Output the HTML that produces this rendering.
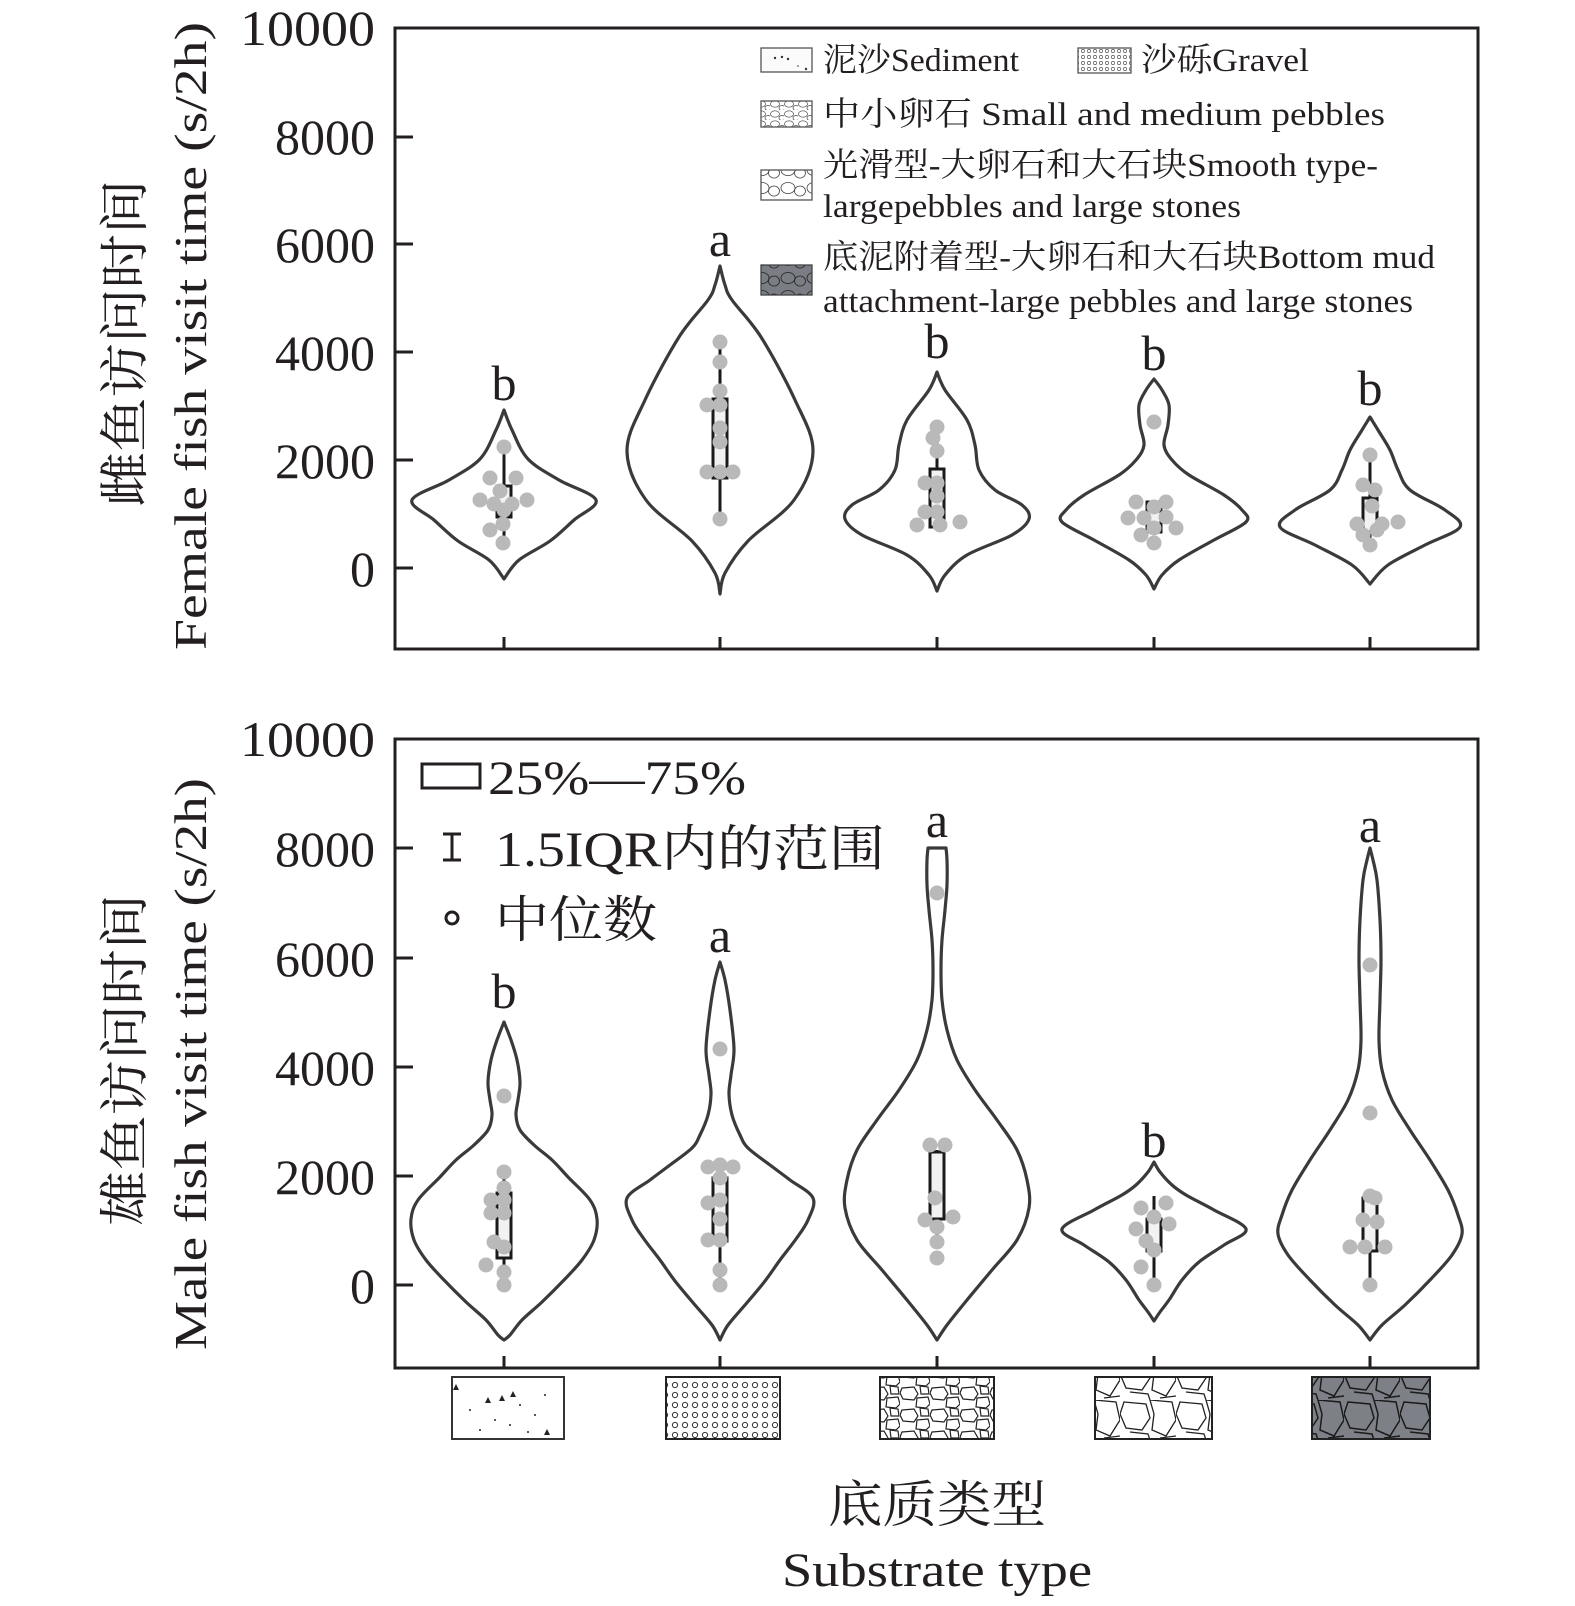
<!DOCTYPE html>
<html><head><meta charset="utf-8"><style>
html,body{margin:0;padding:0;background:#fff;}
svg{display:block;}
text{font-family:"Liberation Serif","Noto Serif CJK SC",serif;fill:#231f20;}
</style></head><body>
<svg id="s" width="1575" height="1606" viewBox="0 0 1575 1606" xmlns="http://www.w3.org/2000/svg">
<defs>
<pattern id="pGravel" width="10" height="10" patternUnits="userSpaceOnUse"><circle cx="5" cy="5" r="2.6" fill="none" stroke="#333" stroke-width="1"/></pattern>
<pattern id="pGravelS" width="6" height="6" patternUnits="userSpaceOnUse"><circle cx="3" cy="3" r="1.6" fill="none" stroke="#555" stroke-width="0.7"/></pattern>
<pattern id="pSmall" width="30" height="22" patternUnits="userSpaceOnUse"><path d="M2 2 L14 1 L18 8 L14 14 L3 13 L0 7Z M17 12 L28 11 L30 18 L26 22 L16 21Z M20 0 L28 1 L29 8 L21 8Z" fill="none" stroke="#222" stroke-width="1.2"/></pattern>
<pattern id="pSmallS" width="14" height="10" patternUnits="userSpaceOnUse"><ellipse cx="5" cy="4" rx="4.5" ry="3.2" fill="none" stroke="#444" stroke-width="0.7"/><ellipse cx="12" cy="8" rx="3" ry="2.5" fill="none" stroke="#444" stroke-width="0.7"/></pattern>
<pattern id="pLarge" width="56" height="40" patternUnits="userSpaceOnUse"><path d="M4 2 L26 4 L30 18 L22 30 L6 28 L0 14Z M30 0 L52 2 L56 20 L46 36 L32 30 L34 14Z M10 32 L28 34 L30 40 M40 38 L56 36" fill="none" stroke="#222" stroke-width="1.3"/></pattern>
<pattern id="pLargeS" width="26" height="18" patternUnits="userSpaceOnUse"><ellipse cx="8" cy="8" rx="7" ry="5.5" fill="none" stroke="#444" stroke-width="0.8"/><ellipse cx="20" cy="11" rx="5.5" ry="5" fill="none" stroke="#444" stroke-width="0.8"/></pattern>
<pattern id="pMud" width="56" height="40" patternUnits="userSpaceOnUse"><rect width="56" height="40" fill="#7d8087"/><path d="M4 2 L26 4 L30 18 L22 30 L6 28 L0 14Z M30 0 L52 2 L56 20 L46 36 L32 30 L34 14Z M10 32 L28 34 L30 40 M40 38 L56 36" fill="none" stroke="#1a1a1a" stroke-width="1.5"/></pattern>
<pattern id="pMudS" width="26" height="18" patternUnits="userSpaceOnUse"><rect width="26" height="18" fill="#7a7d84"/><ellipse cx="8" cy="8" rx="7" ry="5.5" fill="none" stroke="#222" stroke-width="0.8"/><ellipse cx="20" cy="11" rx="5.5" ry="5" fill="none" stroke="#222" stroke-width="0.8"/></pattern>
</defs>

<!-- frames -->
<rect x="395" y="28" width="1083" height="621" fill="none" stroke="#231f20" stroke-width="3"/>
<rect x="395" y="739" width="1083" height="629" fill="none" stroke="#231f20" stroke-width="3"/>
<g id="ticks" stroke="#231f20" stroke-width="3"></g>

<!-- y tick labels upper -->
<g font-size="50" text-anchor="end">
<text x="375" y="45" textLength="135" lengthAdjust="spacingAndGlyphs">10000</text>
<text x="375" y="154">8000</text>
<text x="375" y="262">6000</text>
<text x="375" y="370">4000</text>
<text x="375" y="478">2000</text>
<text x="375" y="586">0</text>
<text x="375" y="756" textLength="135" lengthAdjust="spacingAndGlyphs">10000</text>
<text x="375" y="866">8000</text>
<text x="375" y="976">6000</text>
<text x="375" y="1085">4000</text>
<text x="375" y="1194">2000</text>
<text x="375" y="1303">0</text>
</g>

<!-- axis titles -->
<text transform="translate(206,336) rotate(-90)" font-size="46" text-anchor="middle" textLength="628" lengthAdjust="spacingAndGlyphs">Female fish visit time (s/2h)</text>
<text transform="translate(142,343) rotate(-90)" font-size="50" text-anchor="middle" textLength="327" lengthAdjust="spacingAndGlyphs">雌鱼访问时间</text>
<text transform="translate(206,1064) rotate(-90)" font-size="46" text-anchor="middle" textLength="572" lengthAdjust="spacingAndGlyphs">Male fish visit time (s/2h)</text>
<text transform="translate(142,1060) rotate(-90)" font-size="50" text-anchor="middle" textLength="332" lengthAdjust="spacingAndGlyphs">雄鱼访问时间</text>

<text x="937" y="1522" font-size="50" text-anchor="middle" textLength="218" lengthAdjust="spacingAndGlyphs">底质类型</text>
<text x="937" y="1586" font-size="48" text-anchor="middle" textLength="310" lengthAdjust="spacingAndGlyphs">Substrate type</text>

<!-- upper legend -->
<g font-size="33">
<rect x="761" y="48" width="51" height="24" fill="#fbfbfb" stroke="#555" stroke-width="1.3"/>
<circle cx="775" cy="58" r="1.2" fill="#333"/><circle cx="782" cy="57" r="1.2" fill="#333"/><circle cx="788" cy="59" r="1.2" fill="#333"/><circle cx="806" cy="69" r="1.2" fill="#333"/><circle cx="798" cy="66" r="0.8" fill="#333"/>
<text x="823" y="71" textLength="196" lengthAdjust="spacingAndGlyphs">泥沙Sediment</text>
<rect x="1078" y="48" width="53" height="25" fill="url(#pGravelS)" stroke="#555" stroke-width="1.3"/>
<text x="1141" y="71" textLength="168" lengthAdjust="spacingAndGlyphs">沙砾Gravel</text>
<rect x="761" y="101" width="51" height="26" fill="url(#pSmallS)" stroke="#555" stroke-width="1.3"/>
<text x="823" y="125" textLength="562" lengthAdjust="spacingAndGlyphs">中小卵石 Small and medium pebbles</text>
<rect x="761" y="170" width="51" height="30" fill="url(#pLargeS)" stroke="#555" stroke-width="1.3"/>
<text x="823" y="176" textLength="555" lengthAdjust="spacingAndGlyphs">光滑型-大卵石和大石块Smooth type-</text>
<text x="823" y="217" textLength="418" lengthAdjust="spacingAndGlyphs">largepebbles and large stones</text>
<rect x="761" y="265" width="51" height="30" fill="url(#pMudS)" stroke="#444" stroke-width="1.3"/>
<text x="823" y="268" textLength="612" lengthAdjust="spacingAndGlyphs">底泥附着型-大卵石和大石块Bottom mud</text>
<text x="823" y="312" textLength="590" lengthAdjust="spacingAndGlyphs">attachment-large pebbles and large stones</text>
</g>

<!-- lower legend -->
<rect x="422" y="764" width="58" height="24" fill="none" stroke="#231f20" stroke-width="3"/>
<text x="488" y="794" font-size="48" textLength="258" lengthAdjust="spacingAndGlyphs">25%—75%</text>
<g stroke="#231f20" stroke-width="3"><line x1="452" y1="834" x2="452" y2="860"/><line x1="443" y1="834" x2="461" y2="834"/><line x1="443" y1="860" x2="461" y2="860"/></g>
<text x="495" y="866" font-size="50" textLength="390" lengthAdjust="spacingAndGlyphs">1.5IQR内的范围</text>
<circle cx="452" cy="918" r="6" fill="none" stroke="#231f20" stroke-width="3"/>
<text x="495" y="937" font-size="50" textLength="162" lengthAdjust="spacingAndGlyphs">中位数</text>

<!-- group letters -->
<g font-size="50" text-anchor="middle">
<text x="504" y="400">b</text>
<text x="720" y="256">a</text>
<text x="937" y="358">b</text>
<text x="1154" y="370">b</text>
<text x="1370" y="405">b</text>
<text x="504" y="1008">b</text>
<text x="720" y="952">a</text>
<text x="937" y="837">a</text>
<text x="1154" y="1157">b</text>
<text x="1370" y="842">a</text>
</g>

<g id="plot"></g>

<!-- substrate swatches -->
<rect x="452" y="1377" width="112" height="62" fill="#fff" stroke="#333" stroke-width="2"/>
<g fill="#222"><path d="M456 1384 l3 6 h-6z"/><path d="M488 1397 l3 6 h-6z"/><path d="M502 1395 l3 6 h-6z"/><path d="M513 1391 l3 6 h-6z"/><path d="M547 1429 l3 6 h-6z"/>
<circle cx="470" cy="1410" r="1"/><circle cx="495" cy="1420" r="1"/><circle cx="520" cy="1405" r="1"/><circle cx="535" cy="1415" r="1"/><circle cx="480" cy="1430" r="1"/><circle cx="510" cy="1425" r="1"/><circle cx="545" cy="1395" r="1"/><circle cx="528" cy="1432" r="1"/></g>
<rect x="666" y="1377" width="114" height="62" fill="url(#pGravel)" stroke="#222" stroke-width="2"/>
<rect x="880" y="1377" width="114" height="62" fill="url(#pSmall)" stroke="#222" stroke-width="2"/>
<rect x="1095" y="1377" width="117" height="62" fill="url(#pLarge)" stroke="#222" stroke-width="2"/>
<rect x="1312" y="1377" width="118" height="62" fill="url(#pMud)" stroke="#222" stroke-width="2"/>
</svg>
<script>
(function(){
var NS="http://www.w3.org/2000/svg",g=document.getElementById("plot"),tk=document.getElementById("ticks");
function el(n,a,p){var e=document.createElementNS(NS,n);for(var k in a)e.setAttribute(k,a[k]);(p||g).appendChild(e);return e;}
var X=[504,720,937,1154,1370];
// ticks
[137,244,352,460,568].forEach(function(y){el("line",{x1:395,y1:y,x2:413,y2:y},tk);});
[848,958,1067,1176,1285].forEach(function(y){el("line",{x1:395,y1:y,x2:413,y2:y},tk);});
X.forEach(function(x){el("line",{x1:x,y1:637,x2:x,y2:649},tk);el("line",{x1:x,y1:1356,x2:x,y2:1368},tk);});
function cr(pts){var d="M"+pts[0][0]+" "+pts[0][1];for(var i=0;i<pts.length-1;i++){var p0=pts[i-1]||pts[i],p1=pts[i],p2=pts[i+1],p3=pts[i+2]||p2;
d+=" C"+(p1[0]+(p2[0]-p0[0])/6).toFixed(1)+" "+(p1[1]+(p2[1]-p0[1])/6).toFixed(1)+" "+(p2[0]-(p3[0]-p1[0])/6).toFixed(1)+" "+(p2[1]-(p3[1]-p1[1])/6).toFixed(1)+" "+p2[0]+" "+p2[1];}return d;}
function violin(cx,prof){var R=prof.map(function(p){return [cx+p[1],p[0]];});var L=prof.slice().reverse().map(function(p){return [cx-p[1],p[0]];});
var d=cr(R)+" L"+L[0][0]+" "+L[0][1]+" "+cr(L).slice(1).replace(/^[^C]*/,"")+"Z";
el("path",{d:d,fill:"none",stroke:"#3a3a3a","stroke-width":3.2,"stroke-linejoin":"round"});}
var V=[
[[410,0],[430,8],[459,24],[480,55],[500,92],[520,70],[541,46],[560,15],[579,0]],
[[266,0],[285,5],[300,12],[337,41],[400,75],[451,93],[500,74],[541,28],[573,5],[594,0]],
[[372,0],[390,8],[420,30],[445,38],[470,42],[490,58],[505,85],[519,92],[535,75],[555,30],[575,8],[591,0]],
[[379,0],[390,8],[405,15],[425,14],[445,10],[460,18],[475,35],[495,70],[510,88],[522,92],[540,60],[560,25],[575,8],[589,0]],
[[417,0],[430,8],[450,20],[470,28],[490,40],[510,75],[527,90],[545,55],[565,18],[584,0]],
[[1022,0],[1040,7],[1060,13],[1082,16],[1100,14],[1115,12],[1130,16],[1145,30],[1160,48],[1177,64],[1200,86],[1219,93],[1240,90],[1260,78],[1280,60],[1302,38],[1320,18],[1335,6],[1340,0]],
[[962,0],[980,5],[1010,10],[1049,14],[1075,11],[1094,9],[1115,12],[1135,20],[1148,28],[1165,50],[1180,70],[1198,93],[1220,88],[1239,76],[1260,60],[1281,45],[1305,25],[1325,8],[1340,0]],
[[848,9],[860,10],[885,10],[910,8],[940,5],[970,4],[1000,5],[1030,10],[1060,20],[1090,38],[1120,60],[1150,80],[1180,90],[1208,92],[1240,80],[1270,55],[1300,30],[1325,10],[1340,0]],
[[1162,0],[1172,6],[1185,18],[1195,32],[1210,60],[1229,92],[1245,70],[1262,45],[1280,28],[1300,15],[1312,6],[1321,0]],
[[848,0],[860,3],[880,7],[920,10],[960,11],[1000,10],[1040,9],[1070,12],[1100,22],[1130,40],[1160,60],[1190,78],[1215,88],[1234,92],[1255,82],[1280,60],[1305,35],[1325,12],[1340,0]]];
V.forEach(function(p,i){violin(X[i%5],p);});
// whiskers & boxes [wTop,wBot,bTop,bBot]
var B=[[447,538,486,517],[341,519,399,478],[425,529,469,527],[500,532,502,532],[450,538,498,532],
[1167,1285,1193,1258],[1167,1285,1178,1241],[1150,1245,1152,1219],[1196,1285,1219,1251],[1190,1285,1198,1251]];
var D=[
[[504,447],[490,478],[516,478],[480,500],[527,500],[500,491],[494,504],[512,504],[504,510],[490,530],[503,524],[503,543]],
[[720,342],[720,362],[720,391],[707,405],[720,405],[720,428],[720,442],[707,472],[720,472],[733,472],[720,519]],
[[937,427],[933,438],[937,451],[925,483],[937,483],[925,512],[937,512],[917,525],[940,525],[960,522],[937,496]],
[[1154,422],[1136,502],[1166,502],[1154,507],[1128,518],[1144,518],[1166,517],[1154,528],[1176,528],[1141,535],[1154,543]],
[[1370,455],[1363,485],[1375,490],[1372,506],[1357,524],[1382,524],[1398,522],[1363,535],[1377,530],[1370,545]],
[[504,1096],[504,1172],[504,1188],[491,1200],[504,1200],[491,1213],[504,1213],[494,1242],[504,1247],[486,1265],[504,1272],[504,1285]],
[[720,1049],[708,1167],[720,1165],[733,1167],[720,1178],[708,1203],[720,1200],[720,1219],[708,1240],[720,1240],[720,1270],[720,1285]],
[[937,893],[930,1145],[945,1145],[935,1198],[925,1220],[953,1217],[937,1227],[937,1242],[937,1258]],
[[1141,1208],[1166,1203],[1136,1229],[1169,1224],[1154,1217],[1146,1241],[1154,1250],[1141,1267],[1154,1285]],
[[1370,965],[1370,1113],[1370,1196],[1375,1198],[1363,1220],[1377,1222],[1350,1247],[1365,1247],[1385,1247],[1370,1285]]];
B.forEach(function(b,i){var x=X[i%5];
el("line",{x1:x,y1:b[0],x2:x,y2:b[1],stroke:"#1a1a1a","stroke-width":3});
el("rect",{x:x-7,y:b[2],width:14,height:b[3]-b[2],fill:"#f2f2f2",stroke:"#1a1a1a","stroke-width":3});});
D.forEach(function(ds){ds.forEach(function(p){el("circle",{cx:p[0],cy:p[1],r:7.5,fill:"#b9b9b9"});});});
})();
</script>
</body></html>
